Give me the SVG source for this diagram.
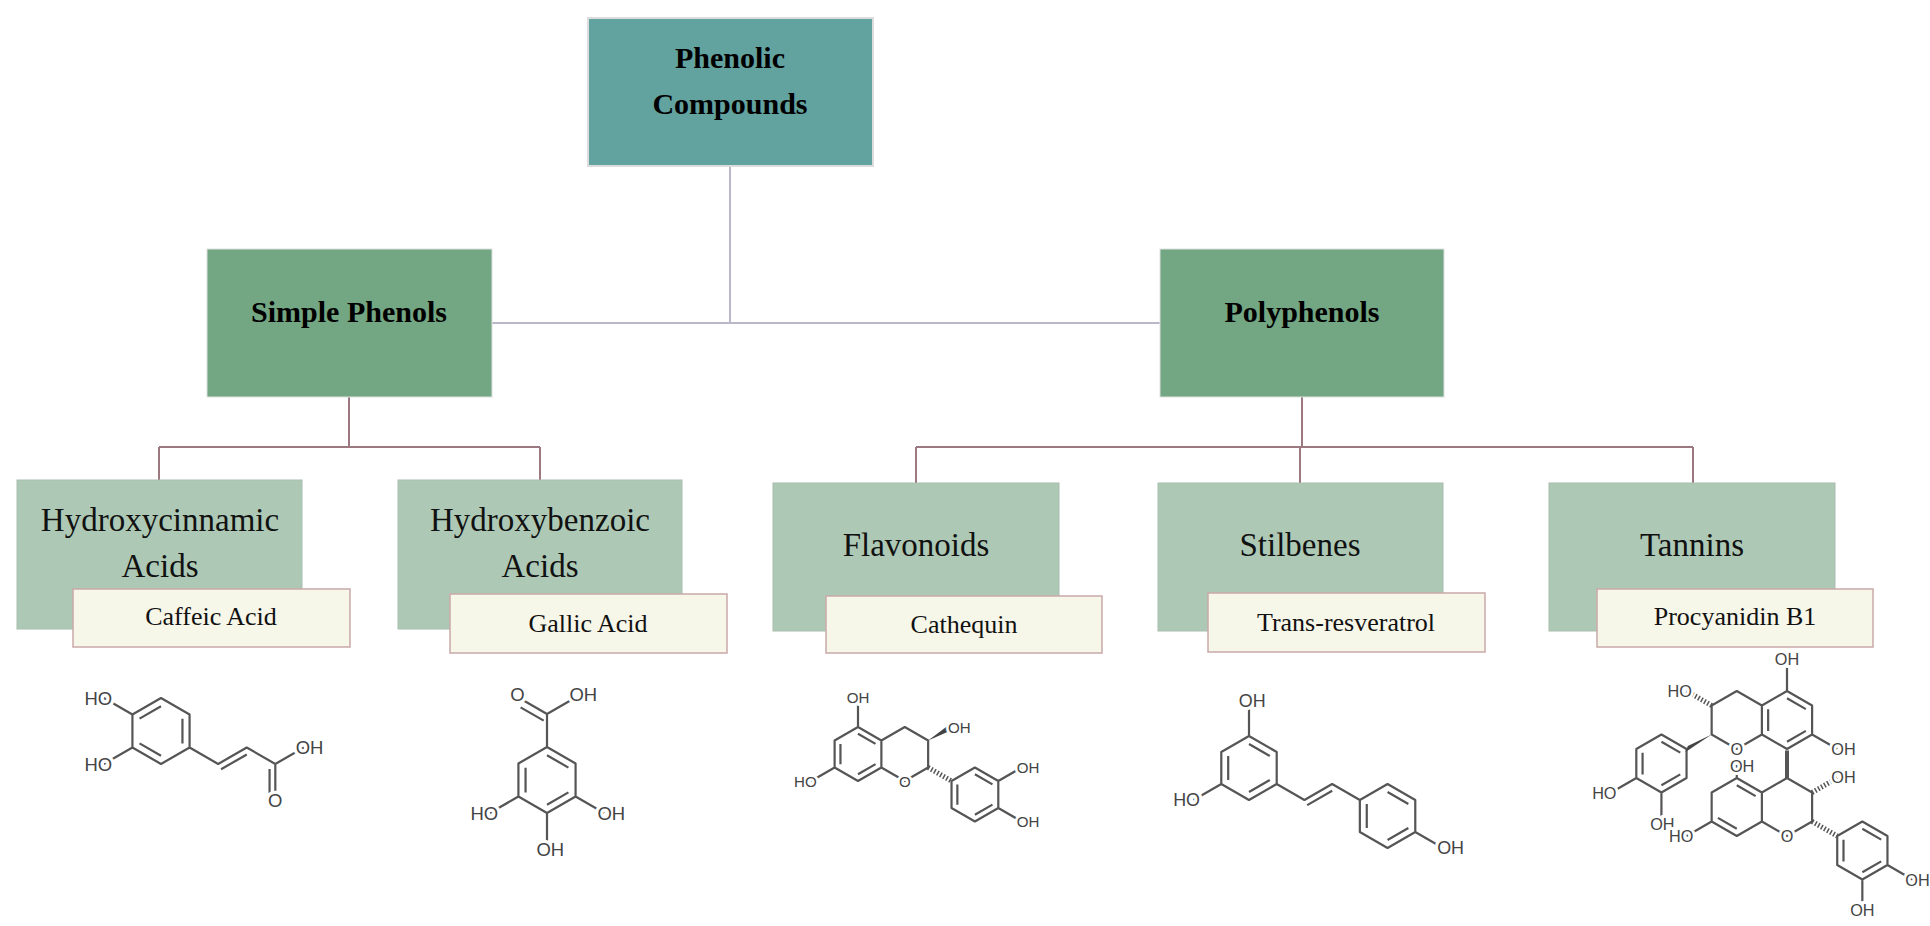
<svg xmlns="http://www.w3.org/2000/svg" width="1930" height="926" viewBox="0 0 1930 926">
<style>
.top{fill:#62A29F;stroke:#dcdcdc;stroke-width:2}
.l2{fill:#73A682;stroke:#e0e0e0;stroke-width:1}
.l3{fill:#ADC9B5;stroke:#a9bdae;stroke-width:1}
.lb{fill:#F6F6E9;stroke:#c9a9a9;stroke-width:1.5}
.tb{font-family:"Liberation Serif",serif;font-weight:bold;font-size:30px;fill:#000;text-anchor:middle;dominant-baseline:central}
.t3{font-family:"Liberation Serif",serif;font-size:33px;fill:#111;text-anchor:middle;dominant-baseline:central}
.tl{font-family:"Liberation Serif",serif;font-size:26px;fill:#111;text-anchor:middle;dominant-baseline:central}
.cg{fill:none;stroke:#b8b8c8;stroke-width:2}
.cm{fill:none;stroke:#9c7880;stroke-width:2}
.b{fill:none;stroke:#555;stroke-width:2.2;vector-effect:non-scaling-stroke;stroke-linejoin:round}
.h{fill:none;stroke:#555;stroke-width:5;stroke-dasharray:1.5 2;vector-effect:non-scaling-stroke}
.w{fill:#444;stroke:none}
.a{font-family:"Liberation Sans",sans-serif;font-size:0.56px;fill:#444;text-anchor:middle;dominant-baseline:central;stroke:#fff;stroke-width:0.2px;paint-order:stroke}
</style>
<g id="connectors">
<path class="cg" d="M730,166V323M492,323H1160"/>
<path class="cm" d="M349,397V447M159,447H540M159,447V480M540,447V480"/>
<path class="cm" d="M1302,397V447M916,447H1693M916,447V483M1300,447V483M1693,447V483"/>
</g>
<g id="phenolic"><rect class="top" x="588" y="18" width="285" height="148"/><text class="tb" x="730" y="57">Phenolic</text><text class="tb" x="730" y="103">Compounds</text></g>
<g id="simple"><rect class="l2" x="207" y="249" width="285" height="148"/><text class="tb" x="349" y="311">Simple Phenols</text></g>
<g id="poly"><rect class="l2" x="1160" y="249" width="284" height="148"/><text class="tb" x="1302" y="311">Polyphenols</text></g>
<g id="hcinn"><rect class="l3" x="17" y="480" width="285" height="149"/><text class="t3" x="160" y="520">Hydroxycinnamic</text><text class="t3" x="160" y="566">Acids</text></g>
<g id="hbenz"><rect class="l3" x="398" y="480" width="284" height="149"/><text class="t3" x="540" y="520">Hydroxybenzoic</text><text class="t3" x="540" y="566">Acids</text></g>
<g id="flav"><rect class="l3" x="773" y="483" width="286" height="148"/><text class="t3" x="916" y="545">Flavonoids</text></g>
<g id="stil"><rect class="l3" x="1158" y="483" width="285" height="148"/><text class="t3" x="1300" y="545">Stilbenes</text></g>
<g id="tann"><rect class="l3" x="1549" y="483" width="286" height="148"/><text class="t3" x="1692" y="545">Tannins</text></g>
<g id="caffeic"><rect class="lb" x="73" y="589" width="277" height="58"/><text class="tl" x="211" y="616">Caffeic Acid</text></g>
<g id="gallic"><rect class="lb" x="450" y="594" width="277" height="59"/><text class="tl" x="588" y="623">Gallic Acid</text></g>
<g id="cathequin"><rect class="lb" x="826" y="596" width="276" height="57"/><text class="tl" x="964" y="624">Cathequin</text></g>
<g id="trans"><rect class="lb" x="1208" y="593" width="277" height="59"/><text class="tl" x="1346" y="622">Trans-resveratrol</text></g>
<g id="procy"><rect class="lb" x="1597" y="589" width="276" height="58"/><text class="tl" x="1735" y="616">Procyanidin B1</text></g>

<g id="mol-caffeic" transform="translate(161,731) scale(33)">
<path class="b" d="M0,-1L.866,-.5L.866,.5L0,1L-.866,.5L-.866,-.5Z M.65,-.375L.65,.375 M0,.75L-.65,.375 M-.65,-.375L0,-.75 M-.866,-.5L-1.732,-1 M-.866,.5L-1.732,1 M.866,.5L1.732,1L2.598,.5L3.464,1L4.33,.5 M3.464,1L3.464,2 M1.82,1.16L2.6,.71 M3.29,1.15L3.29,1.9"/>
<text class="a" x="-1.9" y="-1">HO</text><text class="a" x="-1.9" y="1">HO</text><text class="a" x="4.5" y=".5">OH</text><text class="a" x="3.464" y="2.1">O</text>
</g>
<g id="mol-gallic" transform="translate(547,780) scale(33)">
<path class="b" d="M0,-1L.866,-.5L.866,.5L0,1L-.866,.5L-.866,-.5Z M0,-.75L.65,-.375 M.65,.375L0,.75 M-.65,.375L-.65,-.375 M0,-1L0,-2L-.866,-2.5 M0,-2L.866,-2.5 M-.1,-1.8L-.8,-2.2 M-.866,.5L-1.732,1 M.866,.5L1.732,1 M0,1L0,2"/>
<text class="a" x="-.9" y="-2.6">O</text><text class="a" x="1.1" y="-2.6">OH</text><text class="a" x="-1.9" y="1">HO</text><text class="a" x="1.95" y="1">OH</text><text class="a" x="0.1" y="2.1">OH</text>
</g>
<g id="mol-catechin" transform="translate(858,754) scale(27)">
<path class="b" d="M0,-1L.866,-.5L.866,.5L0,1L-.866,.5L-.866,-.5Z M.65,-.375L0,-.75 M0,.75L.65,.375 M-.65,.375L-.65,-.375 M.866,-.5L1.732,-1L2.598,-.5L2.598,.5L1.732,1L.866,.5 M0,-1L0,-2 M-.866,.5L-1.732,1 M4.33,.5L5.196,1L5.196,2L4.33,2.5L3.464,2L3.464,1Z M4.33,.75L4.98,1.125 M4.98,1.875L4.33,2.25 M3.68,1.875L3.68,1.125 M5.196,1L6.062,.5 M5.196,2L6.062,2.5"/>
<polygon class="w" points="2.598,-.5 3.4,-1.1 3.5,-.9"/>
<path class="h" d="M2.598,.5L3.464,1"/>
<text class="a" x="0" y="-2.1">OH</text><text class="a" x="-1.95" y="1">HO</text><text class="a" x="3.75" y="-1">OH</text><text class="a" x="1.732" y="1">O</text><text class="a" x="6.3" y=".5">OH</text><text class="a" x="6.3" y="2.5">OH</text>
</g>
<g id="mol-stilbene" transform="translate(1249,768) scale(32)">
<path class="b" d="M0,-1L.866,-.5L.866,.5L0,1L-.866,.5L-.866,-.5Z M0,-.75L.65,-.375 M.65,.375L0,.75 M-.65,.375L-.65,-.375 M0,-1L0,-2 M-.866,.5L-1.732,1 M.866,.5L1.732,1L2.598,.5L3.464,1 M1.82,1.16L2.6,.71 M4.33,.5L5.196,1L5.196,2L4.33,2.5L3.464,2L3.464,1Z M4.33,.75L4.98,1.125 M4.98,1.875L4.33,2.25 M3.68,1.875L3.68,1.125 M5.196,2L6.062,2.5"/>
<text class="a" x="0.1" y="-2.1">OH</text><text class="a" x="-1.95" y="1">HO</text><text class="a" x="6.3" y="2.5">OH</text>
</g>
<g id="mol-procyanidin" transform="translate(1787,720) scale(29)">
<path class="b" d="M0,-1L.866,-.5L.866,.5L0,1L-.866,.5L-.866,-.5Z M0,-.75L.65,-.375 M.65,.375L0,.75 M-.65,.375L-.65,-.375 M-.866,-.5L-1.732,-1L-2.598,-.5L-2.598,.5L-1.732,1L-.866,.5 M0,-1L0,-2 M.866,.5L1.732,1 M-4.33,.5L-3.464,1L-3.464,2L-4.33,2.5L-5.196,2L-5.196,1Z M-4.33,.75L-3.68,1.125 M-3.68,1.875L-4.33,2.25 M-4.98,1.875L-4.98,1.125 M-5.196,2L-6.062,2.5 M-4.33,2.5L-4.33,3.5 M0,2L.866,2.5L.866,3.5L0,4L-.866,3.5L-.866,2.5Z M-.866,2.5L-1.732,2L-2.598,2.5L-2.598,3.5L-1.732,4L-.866,3.5 M-1.732,2.25L-1.082,2.625 M-1.732,3.75L-2.382,3.375 M-1.732,2L-1.732,1.55 M-2.598,3.5L-3.464,4 M2.598,3.5L3.464,4L3.464,5L2.598,5.5L1.732,5L1.732,4Z M2.598,3.75L3.248,4.125 M3.248,4.875L2.598,5.25 M1.948,4.875L1.948,4.125 M3.464,5L4.33,5.5 M2.598,5.5L2.598,6.5"/>
<path class="b" style="stroke-width:4" d="M0,1.05L0,2"/>
<polygon class="w" points="-2.598,.5 -3.42,.9 -3.5,1.1"/>
<path class="h" d="M-2.598,-.5L-3.464,-1 M.866,2.5L1.732,2 M.866,3.5L1.732,4"/>
<text class="a" x="0" y="-2.1">OH</text><text class="a" x="1.95" y="1">OH</text><text class="a" x="-3.7" y="-1">HO</text><text class="a" x="-1.732" y="1">O</text><text class="a" x="-6.3" y="2.5">HO</text><text class="a" x="-4.3" y="3.6">OH</text><text class="a" x="-1.55" y="1.6">OH</text><text class="a" x="0" y="4">O</text><text class="a" x="-3.65" y="4">HO</text><text class="a" x="1.95" y="1.95">OH</text><text class="a" x="4.5" y="5.5">OH</text><text class="a" x="2.598" y="6.55">OH</text>
</g>
</svg>
